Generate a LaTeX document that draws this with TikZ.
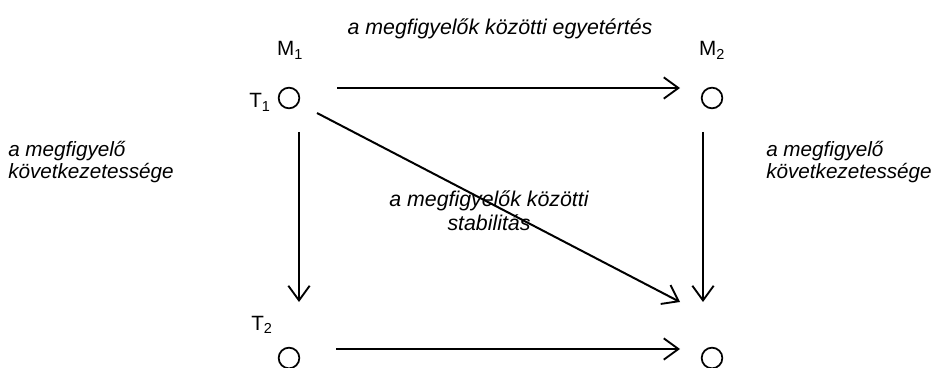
\documentclass[tikz,border=0pt]{standalone}
\usepackage{fontspec}
\setmainfont{Liberation Sans}
\usetikzlibrary{arrows.meta}

\begin{document}
\begin{tikzpicture}[x=0.75pt,y=-0.75pt,
  point/.style={draw, circle, line width=1.3pt, minimum size=15.5pt, inner sep=0pt},
  arrow/.style={-{Straight Barb[length=11pt,width=16pt,line width=1.4pt]}, line width=1.5pt},
  note/.style={font=\fontsize{16}{16}\selectfont\itshape, inner sep=0pt},
  side/.style={note, font=\fontsize{15.5}{16}\selectfont\itshape, anchor=base west, align=left},
  tag/.style={font=\fontsize{15.5}{16}\selectfont, inner sep=0pt, anchor=base}]
\useasboundingbox (0,0) rectangle (937,367);
% observers and times
\node[point] (p11) at (289,98) {};
\node[point] (p21) at (712,98) {};
\node[point] (p12) at (289,358) {};
\node[point] (p22) at (712,358) {};
\node[tag] (m1) at (290,56) {M\textsubscript{1}};
\node[tag] (m2) at (712,56) {M\textsubscript{2}};
\node[tag] (t1) at (260,108) {T\textsubscript{1}};
\node[tag] (t2) at (262,330) {T\textsubscript{2}};
% arrow ends
\coordinate (a1) at (337,88);  \coordinate (b1) at (680,88);
\coordinate (a2) at (336,349); \coordinate (b2) at (680,349);
\coordinate (a3) at (299,132); \coordinate (b3) at (299,302);
\coordinate (a4) at (703,132); \coordinate (b4) at (703,302);
\coordinate (a5) at (317,113); \coordinate (b5) at (680,302);
\draw[arrow] (a1) -- (b1);
\draw[arrow] (a2) -- (b2);
\draw[arrow] (a3) -- (b3);
\draw[arrow] (a4) -- (b4);
\draw[arrow] (a5) -- (b5);
% labels
\node[note, anchor=base] (agree) at (500,35) {a megfigyelők közötti egyetértés};
\node[side] (cons1) at (8,178) {a megfigyelő\\következetessége};
\node[side] (cons2) at (766,178) {a megfigyelő\\következetessége};
\node[note, anchor=base, align=center] (stab) at (489,230) {a megfigyelők közötti\\[1.5pt]stabilitás};
\end{tikzpicture}
\end{document}
